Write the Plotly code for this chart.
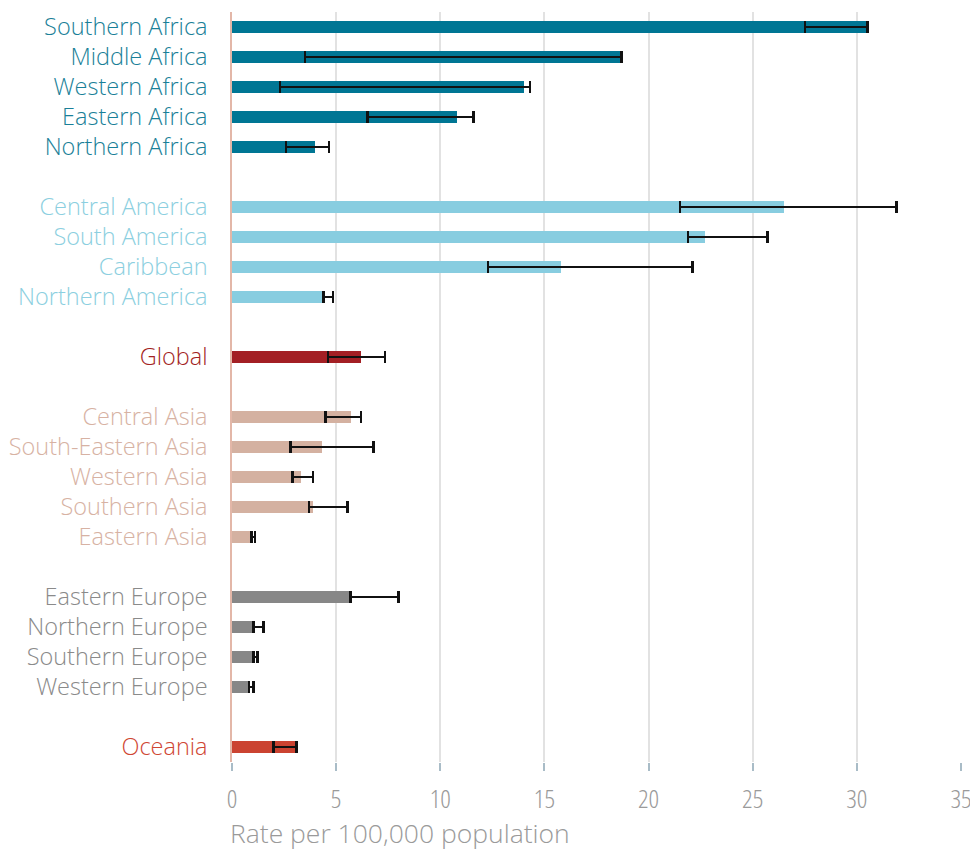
import plotly.graph_objects as go

# ---- data (top to bottom) ----
regions = ["Southern Africa", "Middle Africa", "Western Africa", "Eastern Africa", "Northern Africa",
           "Central America", "South America", "Caribbean", "Northern America",
           "Global",
           "Central Asia", "South-Eastern Asia", "Western Asia", "Southern Asia", "Eastern Asia",
           "Eastern Europe", "Northern Europe", "Southern Europe", "Western Europe",
           "Oceania"]
groups = ["Africa"] * 5 + ["Americas"] * 4 + ["Global"] + ["Asia"] * 5 + ["Europe"] * 4 + ["Oceania"]
values = [30.5, 18.7, 14.0, 10.8, 4.0,
          26.5, 22.7, 15.8, 4.4,
          6.2,
          5.7, 4.3, 3.3, 3.9, 0.93,
          5.7, 1.0, 1.0, 0.85,
          3.1]
lows = [27.5, 3.5, 2.3, 6.5, 2.6,
        21.5, 21.9, 12.3, 4.4,
        4.6,
        4.5, 2.8, 2.9, 3.7, 0.93,
        5.7, 1.02, 1.02, 0.82,
        2.0]
highs = [30.5, 18.7, 14.3, 11.6, 4.65,
         31.9, 25.7, 22.1, 4.85,
         7.35,
         6.2, 6.8, 3.9, 5.55, 1.1,
         8.0, 1.52, 1.23, 1.04,
         3.1]
x_ticks = [0, 5, 10, 15, 20, 25, 30, 35]
x_title = "Rate per 100,000 population"

group_colors = {
    "Africa": "#007694",
    "Americas": "#88cde0",
    "Global": "#a31f24",
    "Asia": "#d4b1a1",
    "Europe": "#878787",
    "Oceania": "#cb4331",
}
label_colors = {
    "Africa": "#1a7f98",
    "Americas": "#8ccfe0",
    "Global": "#a31f24",
    "Asia": "#d7b2a3",
    "Europe": "#8a8a8a",
    "Oceania": "#cf4633",
}

FONT = "Open Sans"
LABEL_CSS = "font-stretch:95%"
TICK_CSS = "font-stretch:87.5%"

# positions with a blank slot between groups (top to bottom)
positions = []
slot = 0
prev = None
for g in groups:
    if prev is not None and g != prev:
        slot += 1
    positions.append(slot)
    slot += 1
    prev = g
n_slots = slot
ypos = [n_slots - 1 - p for p in positions]

fig = go.Figure()
fig.add_trace(go.Bar(
    y=ypos,
    x=values,
    orientation="h",
    width=0.43,
    marker=dict(color=[group_colors[g] for g in groups], line=dict(width=0)),
    error_x=dict(
        type="data",
        symmetric=False,
        array=[h - v for h, v in zip(highs, values)],
        arrayminus=[v - l for v, l in zip(values, lows)],
        color="#111111",
        thickness=2.5,
        width=6,
    ),
    hoverinfo="skip",
    showlegend=False,
))

ticktext = [f"<span style='color:{label_colors[g]};{LABEL_CSS}'>{r}</span>" for r, g in zip(regions, groups)]
xticktext = [f"<span style='{TICK_CSS}'>{t}</span>" for t in x_ticks]

fig.update_layout(
    width=970,
    height=842,
    margin=dict(l=224, r=17, t=4, b=88),
    paper_bgcolor="white",
    plot_bgcolor="white",
    font=dict(family=FONT, weight=300, size=24, color="#999999"),
    bargap=0,
    xaxis=dict(
        range=[0, 35],
        tickvals=x_ticks,
        ticktext=xticktext,
        ticks="outside",
        ticklen=8,
        tickwidth=2,
        tickcolor="#a9bcc7",
        showgrid=True,
        gridcolor="#e2e2e2",
        gridwidth=1.5,
        zeroline=False,
        showline=False,
        automargin=False,
        ticklabelstandoff=6,
        tickfont=dict(size=26, color="#9a9a9a", family=FONT, weight=300),
        fixedrange=True,
    ),
    yaxis=dict(
        range=[-0.5, n_slots - 0.5],
        tickvals=ypos,
        ticktext=ticktext,
        showgrid=False,
        zeroline=False,
        showline=True,
        linecolor="#e3b7a8",
        linewidth=1.5,
        ticks="",
        ticklabelstandoff=18,
        automargin=False,
        tickfont=dict(size=23.5, family=FONT, weight=300),
        fixedrange=True,
    ),
    annotations=[dict(
        text=x_title,
        xref="paper", yref="paper",
        x=0, y=-0.095,
        xanchor="left", yanchor="middle",
        xshift=-4,
        showarrow=False,
        font=dict(size=26.5, color="#9a9a9a", family=FONT, weight=300),
    )],
)

fig.write_html("out.html")
